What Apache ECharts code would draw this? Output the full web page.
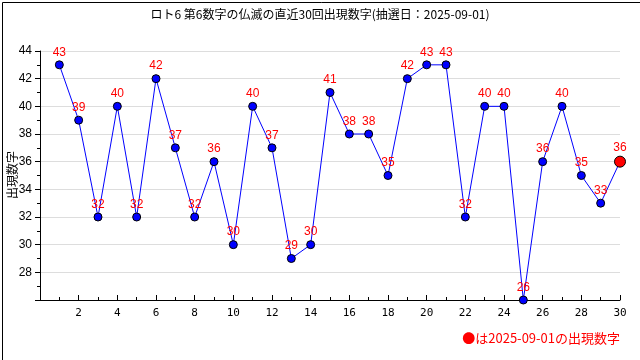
<!DOCTYPE html>
<html><head><meta charset="utf-8">
<script src="https://cdn.jsdelivr.net/npm/echarts@6/dist/echarts.min.js"></script>
<style>html,body{margin:0;padding:0;background:#fff}#c{width:640px;height:360px}</style>
</head><body><div id="c"></div>
<script>
const titleText = 'ロト6 第6数字の仏滅の直近30回出現数字(抽選日：2025-09-01)';
const yName = '出現数字';
const footText = '●は2025-09-01の出現数字';
const draws = [1,2,3,4,5,6,7,8,9,10,11,12,13,14,15,16,17,18,19,20,21,22,23,24,25,26,27,28,29,30];
const values = [43,39,32,40,32,42,37,32,36,30,40,37,29,30,41,38,38,35,42,43,43,32,40,40,26,36,40,35,33,36];

const chart = echarts.init(document.getElementById('c'), null, {renderer:'canvas'});
const data = draws.map((d,i)=>{
  const last = i === draws.length-1;
  return {value:[d, values[i]], symbolSize: last ? 11 : 8,
    itemStyle: last ? {color:'#ff0000', borderColor:'#000', borderWidth:1} : {color:'#0000ff', borderColor:'#000', borderWidth:1}};
});
chart.setOption({
  animation:false,
  title:{text:titleText, left:'center', top:3, textStyle:{fontFamily:'Noto Sans CJK JP', fontSize:12, fontWeight:'normal', color:'#000'}},
  grid:{left:40, right:20, top:51, bottom:60, containLabel:false, outerBoundsMode:'none'},
  xAxis:{type:'value', min:0, max:30, interval:2,
    axisLine:{lineStyle:{color:'#000'}},
    axisTick:{inside:true, length:5, lineStyle:{color:'#000'}},
    minorTick:{show:true, splitNumber:2, length:3, lineStyle:{color:'#000'}},
    splitLine:{show:false},
    axisLabel:{margin:8, color:'#000', fontFamily:'DejaVu Sans Mono', fontSize:11, formatter:v=> v===0?'':String(v)}},
  yAxis:{type:'value', min:26, max:44, interval:2,
    axisLine:{show:true, lineStyle:{color:'#000'}},
    axisTick:{show:true, length:5, lineStyle:{color:'#000'}},
    minorTick:{show:true, splitNumber:2, length:3, lineStyle:{color:'#000'}},
    splitLine:{show:true, lineStyle:{color:'#dddddd'}},
    axisLabel:{color:'#000', fontFamily:'Liberation Sans', fontSize:12, margin:8, formatter:v=> v===26?'':String(v)}},
  series:[{type:'line', data:data, symbol:'circle', lineStyle:{color:'#0000ff', width:1},
    label:{show:true, position:'top', distance:2, color:'#ff0000', fontFamily:'Liberation Sans', fontSize:12, formatter:p=>String(p.value[1])}}],
  graphic:[
    {type:'rect', left:0, top:0, shape:{width:639, height:359}, style:{fill:null, stroke:'#000', lineWidth:1}, silent:true},
    {type:'text', x:12, y:175, rotation:Math.PI/2, style:{text:yName, fill:'#000', align:'center', verticalAlign:'middle', font:'12px "Noto Sans CJK JP"'}},
    {type:'text', right:20, top:332, style:{text:footText, fill:'#ff0000', font:'13px "Noto Sans CJK JP"'}}
  ]
});
</script></body></html>
